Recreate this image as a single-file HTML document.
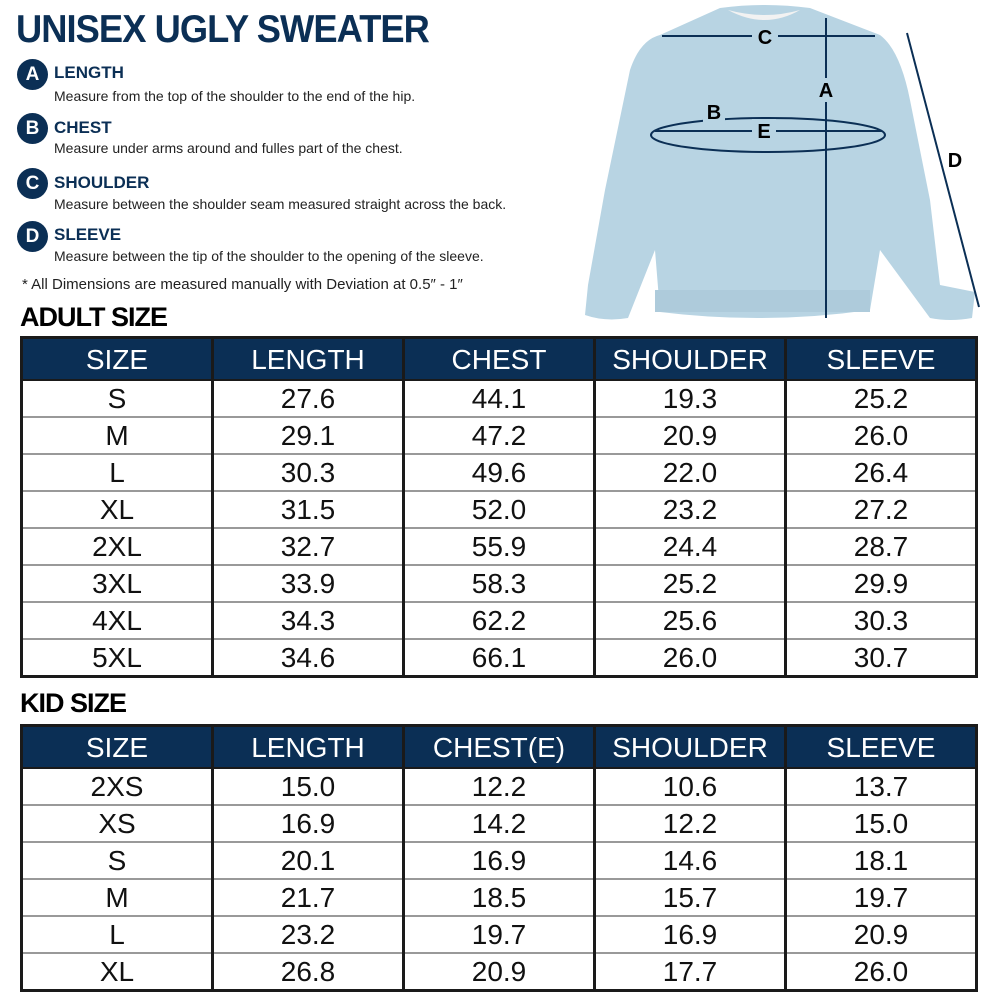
<!DOCTYPE html>
<html><head><style>
body{margin:0;width:1000px;height:1000px;background:#fff;position:relative;overflow:hidden;font-family:"Liberation Sans",sans-serif;}
.t{position:absolute;}
h1{position:absolute;left:16px;top:8px;margin:0;font-size:39px;font-weight:bold;color:#0b2f55;letter-spacing:-1px;transform:scaleX(0.93);transform-origin:left;}
.c{position:absolute;left:17px;width:31px;height:31px;border-radius:50%;background:#0b2f55;color:#fff;font-weight:bold;font-size:19px;text-align:center;line-height:31px;}
.h{position:absolute;left:54px;font-weight:bold;font-size:17px;color:#0b2f55;}
.d{position:absolute;left:54px;font-size:14px;color:#222;}
.sec{position:absolute;left:20px;font-weight:bold;font-size:27px;color:#000;letter-spacing:-1px;}
table{position:absolute;left:20px;width:958px;border-collapse:collapse;border:3px solid #1a1a1a;table-layout:fixed;}
td,th{text-align:center;font-size:28px;font-weight:normal;height:35px;padding:0;border-left:3px solid #1a1a1a;border-right:3px solid #1a1a1a;border-bottom:2px solid #999;line-height:35px;color:#111;}
th{background:#0b2f55;color:#fff;height:40px;border-bottom:2px solid #1a1a1a;}
</style></head><body>
<h1>UNISEX UGLY SWEATER</h1>
<div class="c" style="top:59px">A</div><div class="h" style="top:63px">LENGTH</div><div class="d" style="top:88px">Measure from the top of the shoulder to the end of the hip.</div>
<div class="c" style="top:113px">B</div><div class="h" style="top:118px">CHEST</div><div class="d" style="top:140px">Measure under arms around and fulles part of the chest.</div>
<div class="c" style="top:168px">C</div><div class="h" style="top:173px">SHOULDER</div><div class="d" style="top:196px">Measure between the shoulder seam measured straight across the back.</div>
<div class="c" style="top:221px">D</div><div class="h" style="top:225px">SLEEVE</div><div class="d" style="top:248px">Measure between the tip of the shoulder to the opening of the sleeve.</div>
<div class="d" style="left:22px;top:276px;font-size:15px">* All Dimensions are measured manually with Deviation at 0.5″ - 1″</div>
<svg class="t" style="left:0;top:0" width="1000" height="335">
<path d="M720,8 Q765,2 810,8 L880,35 Q900,50 910,100 L930,200 L940,285 L975,292 L972,318 Q950,322 930,318 L880,250 L870,310 Q765,325 660,312 L655,250 L628,318 Q605,322 585,315 L588,285 L605,190 L630,70 Q640,40 660,35 Z" fill="#b8d4e3"/>
<path d="M728,10 Q765,30 800,10 Q765,20 728,10Z" fill="#f2f2f2"/>
<rect x="655" y="290" width="215" height="22" fill="#aecbdb"/>
<g stroke="#0b2f55" stroke-width="2" fill="none">
<line x1="662" y1="36" x2="875" y2="36"/><line x1="826" y1="18" x2="826" y2="318"/>
<ellipse cx="768" cy="135" rx="117" ry="17" />
<line x1="655" y1="131" x2="882" y2="131"/><line x1="907" y1="33" x2="979" y2="307"/>
</g>
<g font-weight="bold" font-size="20" fill="#000" text-anchor="middle">
<rect x="752" y="24" width="26" height="24" fill="#b8d4e3"/><text x="765" y="44">C</text>
<rect x="815" y="78" width="22" height="24" fill="#b8d4e3"/><text x="826" y="97">A</text>
<rect x="703" y="100" width="22" height="24" fill="#b8d4e3"/><text x="714" y="119">B</text>
<rect x="752" y="119" width="24" height="24" fill="#b8d4e3"/><text x="764" y="138">E</text>
<text x="955" y="167">D</text></g>
</svg>
<div class="sec" style="top:302px">ADULT SIZE</div>
<table style="top:336px">
<tr><th>SIZE</th><th>LENGTH</th><th>CHEST</th><th>SHOULDER</th><th>SLEEVE</th></tr>
<tr><td>S</td><td>27.6</td><td>44.1</td><td>19.3</td><td>25.2</td></tr>
<tr><td>M</td><td>29.1</td><td>47.2</td><td>20.9</td><td>26.0</td></tr>
<tr><td>L</td><td>30.3</td><td>49.6</td><td>22.0</td><td>26.4</td></tr>
<tr><td>XL</td><td>31.5</td><td>52.0</td><td>23.2</td><td>27.2</td></tr>
<tr><td>2XL</td><td>32.7</td><td>55.9</td><td>24.4</td><td>28.7</td></tr>
<tr><td>3XL</td><td>33.9</td><td>58.3</td><td>25.2</td><td>29.9</td></tr>
<tr><td>4XL</td><td>34.3</td><td>62.2</td><td>25.6</td><td>30.3</td></tr>
<tr><td>5XL</td><td>34.6</td><td>66.1</td><td>26.0</td><td>30.7</td></tr>
</table>
<div class="sec" style="top:688px">KID SIZE</div>
<table style="top:724px">
<tr><th>SIZE</th><th>LENGTH</th><th>CHEST(E)</th><th>SHOULDER</th><th>SLEEVE</th></tr>
<tr><td>2XS</td><td>15.0</td><td>12.2</td><td>10.6</td><td>13.7</td></tr>
<tr><td>XS</td><td>16.9</td><td>14.2</td><td>12.2</td><td>15.0</td></tr>
<tr><td>S</td><td>20.1</td><td>16.9</td><td>14.6</td><td>18.1</td></tr>
<tr><td>M</td><td>21.7</td><td>18.5</td><td>15.7</td><td>19.7</td></tr>
<tr><td>L</td><td>23.2</td><td>19.7</td><td>16.9</td><td>20.9</td></tr>
<tr><td>XL</td><td>26.8</td><td>20.9</td><td>17.7</td><td>26.0</td></tr>
</table>
</body></html>
